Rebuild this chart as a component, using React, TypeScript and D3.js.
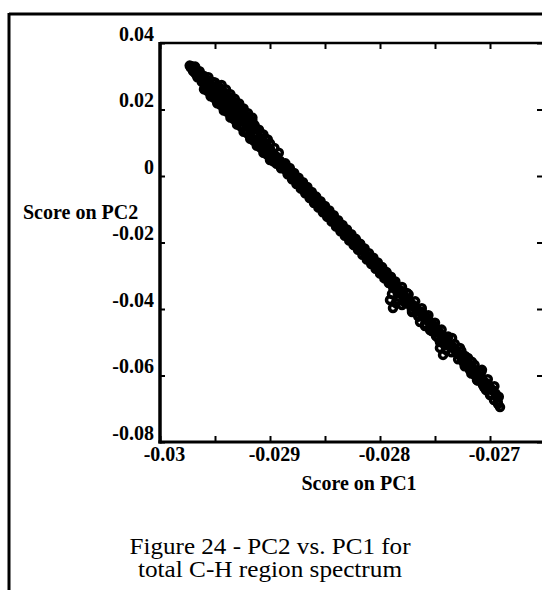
import { useEffect, useRef } from "react";
import * as d3 from "d3";

const W = 542;
const H = 590;

// scores as [PC1, PC2], running from the top-left cluster down to the lower-right tail
const denseScores: [number, number][] = [
  [-0.02973, 0.0332], [-0.02972, 0.0326], [-0.02971, 0.033], [-0.0297, 0.0316],
  [-0.02969, 0.0323], [-0.02968, 0.0309], [-0.02967, 0.0318], [-0.02966, 0.0302],
  [-0.02965, 0.031], [-0.02964, 0.0297], [-0.02963, 0.0306], [-0.02962, 0.0288],
  [-0.02961, 0.0298], [-0.0296, 0.028], [-0.02959, 0.0293], [-0.02958, 0.0275],
  [-0.02957, 0.0287], [-0.02956, 0.0268], [-0.02955, 0.028], [-0.02954, 0.026],
  [-0.02953, 0.0272], [-0.02952, 0.0255], [-0.02951, 0.0268], [-0.0295, 0.025],
  [-0.02949, 0.0266], [-0.02948, 0.0244], [-0.02947, 0.0258], [-0.02946, 0.0237],
  [-0.02945, 0.0252], [-0.02944, 0.0232], [-0.02943, 0.0247], [-0.02942, 0.0224],
  [-0.02941, 0.024], [-0.0294, 0.0218], [-0.02939, 0.0233], [-0.02938, 0.0212],
  [-0.02937, 0.0226], [-0.02936, 0.0204], [-0.02935, 0.0219], [-0.02934, 0.0199],
  [-0.02933, 0.0214], [-0.02932, 0.0192], [-0.02931, 0.0205], [-0.0293, 0.0185],
  [-0.02929, 0.02], [-0.02928, 0.0179], [-0.02927, 0.0194], [-0.02926, 0.0173],
  [-0.02925, 0.0186], [-0.02924, 0.0165], [-0.02923, 0.0179], [-0.02922, 0.0157],
  [-0.02921, 0.017], [-0.0292, 0.015], [-0.02918, 0.0154], [-0.02917, 0.0135],
  [-0.02915, 0.0142], [-0.02914, 0.0125], [-0.02912, 0.0129], [-0.02911, 0.011],
  [-0.02909, 0.0115], [-0.02908, 0.01], [-0.02906, 0.0103], [-0.02905, 0.0088],
  [-0.02903, 0.0092], [-0.02902, 0.0078], [-0.029, 0.0081], [-0.02899, 0.0066],
  [-0.02897, 0.0068], [-0.02896, 0.0057], [-0.02894, 0.0058], [-0.02893, 0.0045],
  [-0.02891, 0.0046], [-0.0289, 0.0035],
];

// fringe of the thick top-left part
const denseUpper: [number, number][] = [
  [-0.02968, 0.0329], [-0.02964, 0.0315], [-0.0296, 0.0301], [-0.02956, 0.0297],
  [-0.02952, 0.0283], [-0.02948, 0.0269], [-0.02944, 0.0254], [-0.0294, 0.024],
  [-0.02936, 0.0236], [-0.02932, 0.0222], [-0.02928, 0.0208], [-0.02924, 0.0193],
  [-0.0292, 0.0179], [-0.02916, 0.0165], [-0.02912, 0.0141], [-0.02908, 0.0127],
  [-0.02904, 0.0112], [-0.029, 0.0098], [-0.02896, 0.0084], [-0.02892, 0.007],
];
const denseUpperFill: [number, number][] = [
  [-0.0295, 0.0281], [-0.02946, 0.0266], [-0.02942, 0.0252], [-0.02938, 0.0238],
  [-0.02934, 0.0224], [-0.0293, 0.021], [-0.02926, 0.0196], [-0.02922, 0.0181],
  [-0.02918, 0.0167], [-0.02914, 0.0153], [-0.0291, 0.0139], [-0.02906, 0.0125],
  [-0.02902, 0.011],
];
const denseOuterUpper: [number, number][] = [
  [-0.02944, 0.0274], [-0.0294, 0.026], [-0.02936, 0.0246], [-0.02932, 0.0232],
  [-0.02928, 0.0218], [-0.02924, 0.0203], [-0.0292, 0.0189], [-0.02916, 0.0175],
];
const denseLower: [number, number][] = [
  [-0.02966, 0.0297], [-0.02962, 0.0283], [-0.02958, 0.0264], [-0.02954, 0.025],
  [-0.0295, 0.0236], [-0.02946, 0.0221], [-0.02942, 0.0207], [-0.02938, 0.0193],
  [-0.02934, 0.0179], [-0.0293, 0.0165], [-0.02926, 0.0151], [-0.02922, 0.0136],
  [-0.02918, 0.0122], [-0.02914, 0.0108], [-0.0291, 0.0094], [-0.02906, 0.008],
  [-0.02902, 0.0065], [-0.02898, 0.0051], [-0.02894, 0.0037], [-0.0289, 0.0023],
];
const denseLowerFill: [number, number][] = [
  [-0.02957, 0.0256], [-0.02951, 0.0235], [-0.02945, 0.0214], [-0.02939, 0.0193],
  [-0.02933, 0.0171], [-0.02927, 0.015], [-0.02921, 0.0129], [-0.02915, 0.0107],
  [-0.02909, 0.0086], [-0.02903, 0.0065], [-0.02897, 0.0044],
];
const denseOuterLower: [number, number][] = [
  [-0.0296, 0.0261], [-0.02954, 0.024], [-0.02948, 0.0219], [-0.02942, 0.0197],
  [-0.02936, 0.0176], [-0.0293, 0.0155], [-0.02924, 0.0133], [-0.02918, 0.0112],
  [-0.02912, 0.0091], [-0.02906, 0.007], [-0.029, 0.0048],
];

const middleScores: [number, number][] = [
  [-0.02888, 0.0034], [-0.02887, 0.0022], [-0.02885, 0.0027], [-0.02884, 0.0013],
  [-0.02882, 0.0017], [-0.02881, 0.0003], [-0.02879, 0.0006], [-0.02878, -0.0008],
  [-0.02876, -0.0005], [-0.02875, -0.002], [-0.02873, -0.0019], [-0.02872, -0.0029],
  [-0.0287, -0.0028], [-0.02869, -0.004], [-0.02867, -0.0036], [-0.02866, -0.005],
  [-0.02864, -0.0049], [-0.02863, -0.0062], [-0.02861, -0.0058], [-0.0286, -0.0072],
  [-0.02858, -0.0069], [-0.02857, -0.0082], [-0.02855, -0.0083], [-0.02853, -0.0097],
  [-0.02852, -0.0089], [-0.0285, -0.0108], [-0.02849, -0.01], [-0.02847, -0.0117],
  [-0.02846, -0.011], [-0.02844, -0.0128], [-0.02843, -0.012], [-0.02841, -0.0139],
  [-0.0284, -0.0133], [-0.02838, -0.015], [-0.02837, -0.0141], [-0.02835, -0.016],
  [-0.02833, -0.0157], [-0.02832, -0.0171], [-0.0283, -0.0168], [-0.02829, -0.0181],
  [-0.02827, -0.0178], [-0.02826, -0.0194], [-0.02824, -0.0191], [-0.02823, -0.0204],
  [-0.02821, -0.0198], [-0.0282, -0.0212], [-0.02818, -0.0206], [-0.02817, -0.0223],
  [-0.02815, -0.0224], [-0.02813, -0.0236], [-0.02812, -0.0242], [-0.0281, -0.0242],
  [-0.02809, -0.0254], [-0.02807, -0.0251], [-0.02806, -0.0265], [-0.02804, -0.0264],
  [-0.02803, -0.0276], [-0.02801, -0.0272], [-0.028, -0.0287], [-0.02798, -0.0284],
  [-0.02797, -0.0298], [-0.02795, -0.0296], [-0.02794, -0.0307], [-0.02792, -0.0302],
  [-0.02791, -0.0319], [-0.02789, -0.0318], [-0.02788, -0.0328], [-0.02786, -0.0327],
  [-0.02785, -0.0342], [-0.02784, -0.035],
];

const middleUpper: [number, number][] = [
  [-0.02886, 0.0038], [-0.02882, 0.0024], [-0.02878, 0.0009], [-0.02874, -0.0005],
  [-0.0287, -0.0019], [-0.02866, -0.0033], [-0.02862, -0.0048], [-0.02858, -0.0062],
  [-0.02854, -0.0076], [-0.0285, -0.009], [-0.02846, -0.0104], [-0.02842, -0.0118],
  [-0.02838, -0.0133], [-0.02834, -0.0147], [-0.0283, -0.0161], [-0.02826, -0.0175],
  [-0.02822, -0.0189], [-0.02818, -0.0204], [-0.02814, -0.0218], [-0.0281, -0.0232],
  [-0.02806, -0.0246], [-0.02802, -0.026], [-0.02798, -0.0274], [-0.02794, -0.0289],
  [-0.0279, -0.0303], [-0.02786, -0.0317],
];
const middleLower: [number, number][] = [
  [-0.02884, 0.0005], [-0.0288, -0.001], [-0.02876, -0.0024], [-0.02872, -0.0038],
  [-0.02868, -0.0052], [-0.02864, -0.0066], [-0.0286, -0.0081], [-0.02856, -0.0095],
  [-0.02852, -0.0109], [-0.02848, -0.0123], [-0.02844, -0.0137], [-0.0284, -0.0152],
  [-0.02836, -0.0166], [-0.02832, -0.018], [-0.02828, -0.0194], [-0.02824, -0.0208],
  [-0.0282, -0.0222], [-0.02816, -0.0237], [-0.02812, -0.0251], [-0.02808, -0.0265],
  [-0.02804, -0.0279], [-0.028, -0.0293], [-0.02796, -0.0308], [-0.02792, -0.0322],
  [-0.02788, -0.0336],
];

const tailScores: [number, number][] = [
  [-0.027909, -0.0373], [-0.027882, -0.0397], [-0.027855, -0.0382], [-0.027891, -0.0355],
  [-0.027836, -0.0373], [-0.0278, -0.0388],
  [-0.027818, -0.0343], [-0.027791, -0.0361], [-0.027755, -0.0352], [-0.027773, -0.0373],
  [-0.027727, -0.0388], [-0.027709, -0.0409], [-0.027682, -0.0397], [-0.027655, -0.0418],
  [-0.027636, -0.0439], [-0.027618, -0.0409], [-0.027591, -0.0451], [-0.027564, -0.0427],
  [-0.027545, -0.0463], [-0.027518, -0.0448], [-0.0275, -0.047], [-0.027491, -0.0481],
  [-0.027473, -0.0463], [-0.027455, -0.0499], [-0.02744, -0.0492], [-0.027427, -0.0538],
  [-0.0274, -0.0523], [-0.027455, -0.0517],
  [-0.027409, -0.0487], [-0.027382, -0.0505], [-0.02735, -0.051], [-0.027345, -0.0487],
  [-0.027318, -0.0523], [-0.027291, -0.0535], [-0.027273, -0.0517], [-0.027255, -0.0553],
  [-0.02724, -0.056], [-0.027227, -0.0541], [-0.027209, -0.0571], [-0.027182, -0.0584],
  [-0.027164, -0.0559], [-0.02715, -0.059], [-0.027136, -0.0599], [-0.027118, -0.0614],
  [-0.02711, -0.0605], [-0.027091, -0.059], [-0.027073, -0.0583], [-0.027064, -0.0629],
  [-0.02705, -0.0635], [-0.027036, -0.0644], [-0.027018, -0.0626], [-0.027, -0.0659],
  [-0.026982, -0.0644], [-0.026964, -0.0674], [-0.026945, -0.0662], [-0.026927, -0.0686],
  [-0.026909, -0.0695],
];

const tailCenter: [number, number][] = [
  [-0.02782, -0.0345], [-0.02779, -0.0356], [-0.02776, -0.0366], [-0.02773, -0.0377],
  [-0.0277, -0.0388], [-0.02767, -0.0398], [-0.02764, -0.0409], [-0.02761, -0.042],
  [-0.02758, -0.043], [-0.02755, -0.0441], [-0.02752, -0.0452], [-0.02749, -0.0462],
  [-0.02746, -0.0473], [-0.02743, -0.0483], [-0.0274, -0.0494], [-0.02737, -0.0505],
  [-0.02734, -0.0515], [-0.02731, -0.0526], [-0.02728, -0.0537], [-0.02725, -0.0547],
  [-0.02722, -0.0558], [-0.02719, -0.0569], [-0.02716, -0.0579], [-0.02713, -0.059],
  [-0.0271, -0.06], [-0.02707, -0.0611], [-0.02704, -0.0622], [-0.02701, -0.0632],
  [-0.02698, -0.0643], [-0.02695, -0.0654], [-0.02692, -0.0664],
];

const tailUpper: [number, number][] = [
  [-0.0278, -0.0334], [-0.02774, -0.0356], [-0.02768, -0.0377], [-0.02762, -0.0398],
  [-0.02756, -0.0419], [-0.0275, -0.0441], [-0.02744, -0.0462], [-0.02738, -0.0483],
  [-0.02732, -0.0505], [-0.02726, -0.0526], [-0.0272, -0.0547], [-0.02714, -0.0568],
  [-0.02708, -0.059], [-0.02702, -0.0611], [-0.02696, -0.0632],
];
const tailLower: [number, number][] = [
  [-0.02777, -0.0381], [-0.02771, -0.0402], [-0.02765, -0.0423], [-0.02759, -0.0445],
  [-0.02753, -0.0466], [-0.02747, -0.0487], [-0.02741, -0.0509], [-0.02735, -0.053],
  [-0.02729, -0.0551], [-0.02723, -0.0572], [-0.02717, -0.0594], [-0.02711, -0.0615],
  [-0.02705, -0.0636], [-0.02699, -0.0657], [-0.02693, -0.0679],
];

const xDomain = [-0.03, -0.0265];
const yDomain = [-0.08, 0.04];
const xTicks = [-0.03, -0.0295, -0.029, -0.0285, -0.028, -0.0275, -0.027];
const xTickLabels = ["-0.03", "", "-0.029", "", "-0.028", "", "-0.027"];
const yTicks = [0.04, 0.02, 0, -0.02, -0.04, -0.06, -0.08];
const yTickLabels = ["0.04", "0.02", "0", "-0.02", "-0.04", "-0.06", "-0.08"];
const xTitle = "Score on PC1";
const yTitle = "Score on PC2";
const caption = ["Figure 24 - PC2 vs. PC1 for", "total C-H region spectrum"];

const serif = "'Liberation Serif', 'Times New Roman', serif";

export default function App() {
  const svgRef = useRef<SVGSVGElement>(null);

  useEffect(() => {
    const svg = d3.select(svgRef.current);
    svg.selectAll("*").remove();

    const left = 160;
    const right = 545;
    const top = 43;
    const bottom = 442;

    const x = d3.scaleLinear().domain(xDomain).range([left, right]);
    const y = d3.scaleLinear().domain(yDomain).range([bottom, top]);

    // page frame
    svg.append("line").attr("x1", 9).attr("x2", W).attr("y1", 14).attr("y2", 14)
      .attr("stroke", "#000").attr("stroke-width", 3);
    svg.append("line").attr("x1", 9).attr("x2", 9).attr("y1", 13).attr("y2", H)
      .attr("stroke", "#000").attr("stroke-width", 3);

    // points
    const scores = [
      ...denseScores, ...denseUpper, ...denseUpperFill, ...denseOuterUpper,
      ...denseLower, ...denseLowerFill, ...denseOuterLower,
      ...middleScores, ...middleUpper, ...middleLower,
      ...tailScores, ...tailCenter, ...tailUpper, ...tailLower,
    ];
    svg.append("g")
      .selectAll("circle")
      .data(scores)
      .join("circle")
      .attr("cx", (d) => x(d[0]))
      .attr("cy", (d) => y(d[1]))
      .attr("r", 3.5)
      .attr("fill", "none")
      .attr("stroke", "#000")
      .attr("stroke-width", 3.5);

    // axes, ticks pointing inward
    const styleAxis = (g: any) => {
      g.select(".domain").remove();
      g.selectAll(".tick line").attr("stroke", "#000").attr("stroke-width", 2);
      g.attr("font-family", serif).attr("font-size", 20).attr("font-weight", "bold");
      g.selectAll("text").attr("fill", "#000");
    };

    svg.append("g")
      .attr("transform", `translate(0,${bottom})`)
      .call(
        d3.axisBottom(x).tickValues(xTicks)
          .tickFormat((_d, i) => xTickLabels[i])
          .tickSizeInner(-6).tickSizeOuter(0).tickPadding(5)
      )
      .call(styleAxis)
      .selectAll("text").attr("dx", 4);

    svg.append("g")
      .attr("transform", `translate(0,${top})`)
      .call(d3.axisTop(x).tickValues(xTicks).tickFormat(() => "").tickSizeInner(-6).tickSizeOuter(0))
      .call(styleAxis);

    svg.append("g")
      .attr("transform", `translate(${left},0)`)
      .call(
        d3.axisLeft(y).tickValues(yTicks)
          .tickFormat((_d, i) => yTickLabels[i])
          .tickSizeInner(-5).tickSizeOuter(0).tickPadding(6)
      )
      .call(styleAxis)
      .selectAll("text").attr("dy", "-0.15em");

    svg.append("g")
      .attr("transform", `translate(${right},0)`)
      .call(d3.axisRight(y).tickValues(yTicks).tickFormat(() => "").tickSizeInner(-8).tickSizeOuter(0))
      .call(styleAxis);

    // plot box
    svg.append("line").attr("x1", left).attr("x2", left).attr("y1", top - 1).attr("y2", bottom + 1.5)
      .attr("stroke", "#000").attr("stroke-width", 3.5);
    svg.append("line").attr("x1", left - 1.5).attr("x2", right).attr("y1", bottom).attr("y2", bottom)
      .attr("stroke", "#000").attr("stroke-width", 3);
    svg.append("line").attr("x1", left).attr("x2", right).attr("y1", top).attr("y2", top)
      .attr("stroke", "#000").attr("stroke-width", 2.5);
    svg.append("line").attr("x1", right).attr("x2", right).attr("y1", top).attr("y2", bottom)
      .attr("stroke", "#000").attr("stroke-width", 2.5);

    // axis titles
    svg.append("text").attr("x", 23).attr("y", 219)
      .attr("font-family", serif).attr("font-size", 20).attr("font-weight", "bold")
      .text(yTitle);
    svg.append("text").attr("x", 359).attr("y", 490).attr("text-anchor", "middle")
      .attr("font-family", serif).attr("font-size", 20).attr("font-weight", "bold")
      .text(xTitle);

    // caption
    const capWidths = [281, 264];
    const capY = [554, 577];
    caption.forEach((line, i) => {
      svg.append("text").attr("x", 270).attr("y", capY[i]).attr("text-anchor", "middle")
        .attr("font-family", serif).attr("font-size", 23)
        .attr("textLength", capWidths[i]).attr("lengthAdjust", "spacingAndGlyphs")
        .text(line);
    });
  }, []);

  return (
    <svg
      ref={svgRef}
      width={W}
      height={H}
      style={{ position: "absolute", left: 0, top: 0, background: "#fff", display: "block" }}
    />
  );
}
